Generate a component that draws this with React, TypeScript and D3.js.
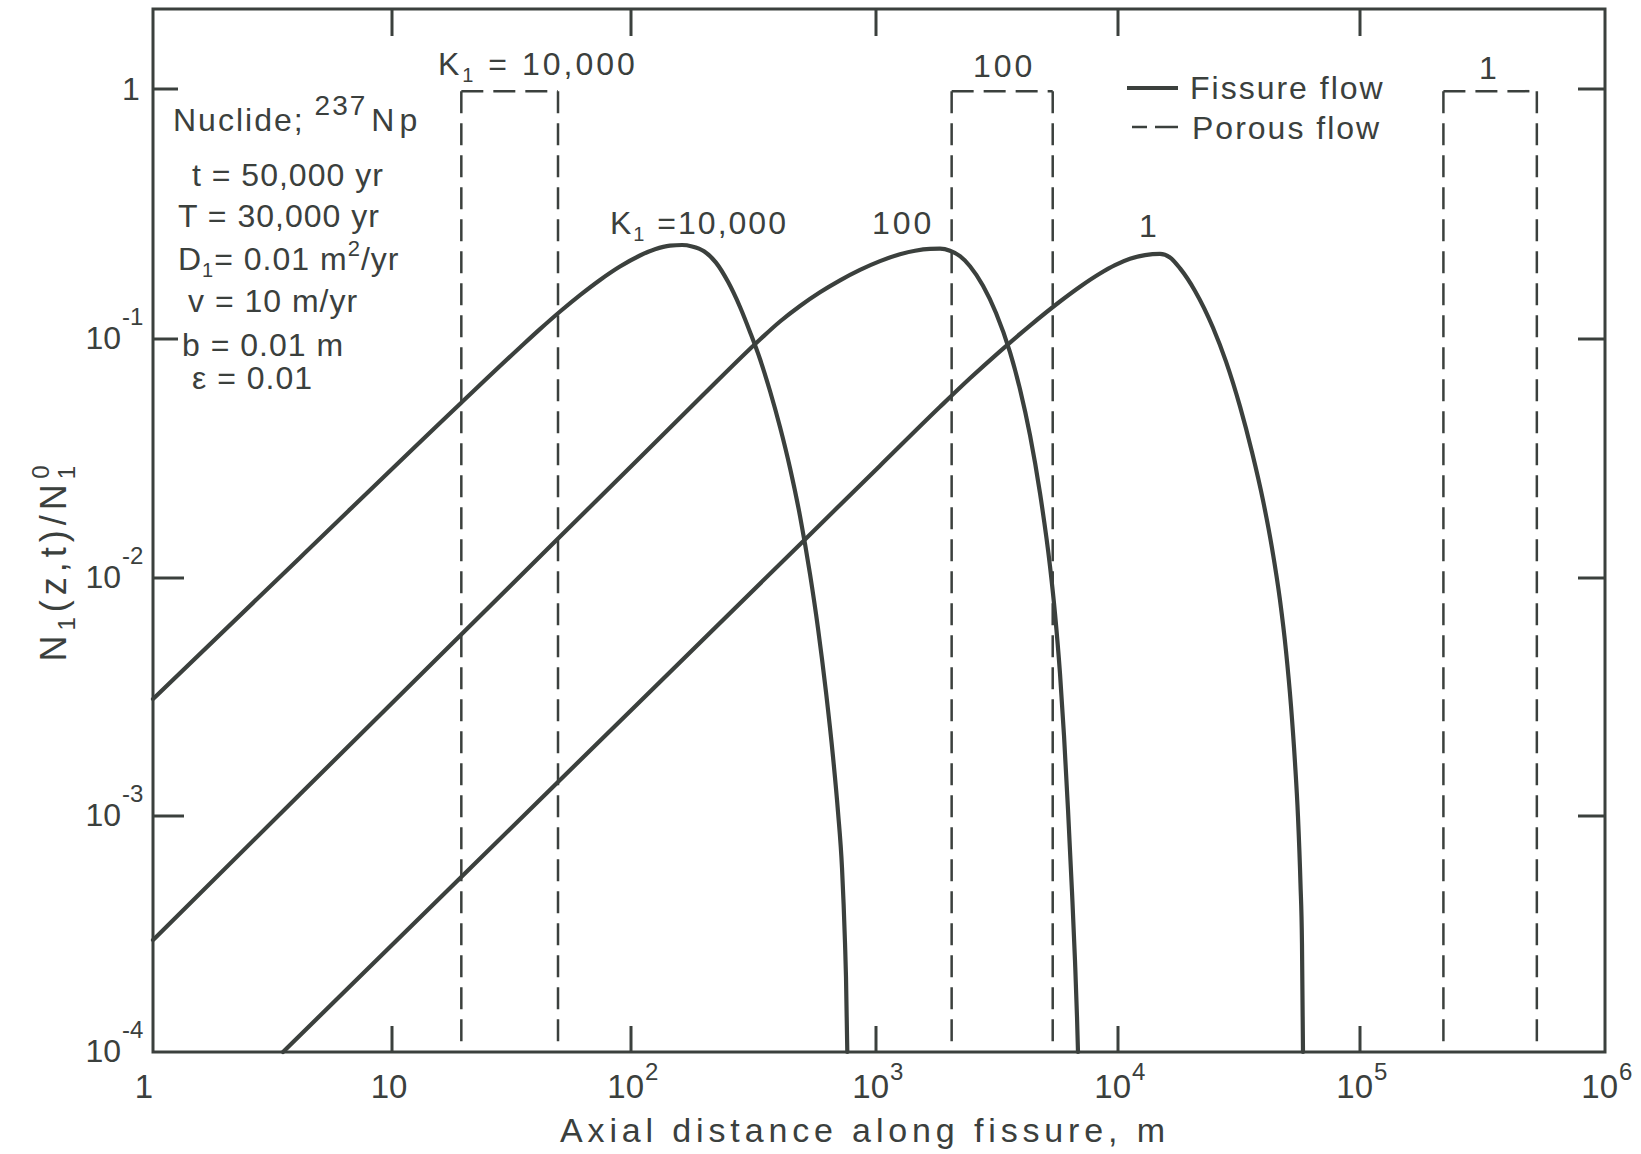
import React from 'react';
import * as d3 from 'd3';

// ---------- data ----------
const xTickValues = [1, 10, 100, 1000, 10000, 100000, 1000000];
const xTickBase = ['1', '10', '10', '10', '10', '10', '10'];
const xTickExp = ['', '', '2', '3', '4', '5', '6'];

const yTickValues = [1e-4, 1e-3, 1e-2, 1e-1, 1];
const yTickBase = ['10', '10', '10', '10', '1'];
const yTickExp = ['-4', '-3', '-2', '-1', ''];

// Fissure flow, K1 = 10,000
const fissureK10000X = [1, 4.12, 19.44, 34.3, 41.6, 50.5, 61.2, 74.2, 89.9, 108.8, 125.3, 144.3, 161.5, 177.5, 198.6, 222.3, 248.9, 278.6, 306.0, 336.1, 369.3, 405.7, 445.7, 489.6, 537.8, 579.9, 625.2, 667.6, 699.7, 726.5, 747.3, 754.4, 763.6];
const fissureK10000Y = [3.1e-3, 0.01216, 0.05398, 0.09213, 0.1095, 0.1288, 0.1498, 0.1723, 0.195, 0.2158, 0.2286, 0.2363, 0.2377, 0.2346, 0.2244, 0.2021, 0.1693, 0.1343, 0.1067, 0.08248, 0.06059, 0.04283, 0.02886, 0.01817, 0.01039, 6.14e-3, 3.31e-3, 1.773e-3, 1.041e-3, 6.03e-4, 2.9e-4, 2.06e-4, 1e-4];

// Fissure flow, K1 = 100
const fissureK100X = [1, 4.12, 19.44, 105.8, 191.2, 336.1, 405.7, 489.6, 590.8, 713.2, 860.4, 1039, 1256, 1450, 1672, 1839, 2022, 2224, 2446, 2768, 3133, 3578, 3936, 4329, 4761, 5236, 5492, 5759, 5983, 6215, 6455, 6642, 6770, 6834];
const fissureK100Y = [2.982e-4, 1.234e-3, 5.77e-3, 0.03105, 0.05663, 0.09952, 0.1175, 0.1356, 0.1538, 0.1717, 0.189, 0.2049, 0.2182, 0.2255, 0.2293, 0.2297, 0.2255, 0.2144, 0.1955, 0.1633, 0.1271, 0.0881, 0.06166, 0.03959, 0.02264, 0.0112, 7.08e-3, 3.962e-3, 2.175e-3, 1.063e-3, 4.777e-4, 2.437e-4, 1.411e-4, 1e-4];

// Fissure flow, K1 = 1
const fissureK1X = [3.499, 19.44, 105.8, 518.0, 1039, 1839, 2446, 3253, 4329, 5759, 6966, 8427, 9719, 11210, 12930, 14910, 16400, 18050, 20810, 24700, 27950, 31920, 35780, 39740, 43290, 46700, 49460, 51870, 53860, 55420, 56760, 57580, 58140];
const fissureK1Y = [1e-4, 5.503e-4, 2.943e-3, 0.01464, 0.0295, 0.05204, 0.06848, 0.08882, 0.1132, 0.1413, 0.1619, 0.1828, 0.1974, 0.2093, 0.2165, 0.2189, 0.212, 0.1916, 0.1557, 0.1109, 0.08043, 0.05224, 0.03366, 0.02112, 0.01334, 8.075e-3, 4.93e-3, 2.896e-3, 1.684e-3, 9.99e-4, 5.171e-4, 2.879e-4, 1e-4];

// Porous flow (step profiles)
const porousFrom = [19.5, 2054, 2.19e5];
const porousTo = [49.5, 5373, 5.27e5];
const porousLevel = 0.98;

const kValues = ['10,000', '100', '1'];

const annotationLines = ['t = 50,000 yr', 'T = 30,000 yr', 'v = 10 m/yr', 'b = 0.01 m', '\u03b5 = 0.01'];

// ---------- style ----------
const INK = '#3b403d';
const FONT = '"Liberation Sans", Arial, Helvetica, sans-serif';
const W = 1641;
const H = 1154;

export default function App() {
  const xScale = d3.scaleLog().domain(xTickValues).range([153, 392, 631, 876, 1118, 1360, 1605]);
  const yScale = d3.scaleLog().domain(yTickValues).range([1052, 816, 578, 339, 89]);

  const left = xScale(1);
  const right = xScale(1e6);
  const bottom = yScale(1e-4);
  const top = 9;

  const line = d3
    .line<[number, number]>()
    .x((d) => xScale(d[0]))
    .y((d) => yScale(d[1]))
    .curve(d3.curveMonotoneX);

  const series = [
    d3.zip(fissureK10000X, fissureK10000Y) as [number, number][],
    d3.zip(fissureK100X, fissureK100Y) as [number, number][],
    d3.zip(fissureK1X, fissureK1Y) as [number, number][],
  ];

  const innerTicksX = xTickValues.slice(1, -1);
  const innerTicksY = yTickValues.slice(1);

  const annPos = [
    [192, 186],
    [178, 227],
    [188, 312],
    [182, 356],
    [192, 389],
  ];

  return (
    <svg
      width={W}
      height={H}
      style={{ position: 'absolute', left: 0, top: 0, background: '#fff' }}
      fontFamily={FONT}
      fill={INK}
    >
      <rect x={0} y={0} width={W} height={H} fill="#fff" />

      {/* frame */}
      <rect x={left} y={top} width={right - left} height={bottom - top} fill="none" stroke={INK} strokeWidth={3} />

      {/* x ticks bottom and top */}
      {innerTicksX.map((v) => (
        <g key={'xt' + v}>
          <line x1={xScale(v)} x2={xScale(v)} y1={bottom} y2={bottom - 26} stroke={INK} strokeWidth={3} />
          <line x1={xScale(v)} x2={xScale(v)} y1={top} y2={top + 27} stroke={INK} strokeWidth={3} />
        </g>
      ))}
      {/* y ticks left and right */}
      {innerTicksY.map((v) => (
        <g key={'yt' + v}>
          <line x1={left} x2={left + (v >= 0.1 ? 25 : 31)} y1={yScale(v)} y2={yScale(v)} stroke={INK} strokeWidth={3} />
          <line x1={right} x2={right - 27} y1={yScale(v)} y2={yScale(v)} stroke={INK} strokeWidth={3} />
        </g>
      ))}

      {/* x tick labels */}
      {xTickValues.map((v, i) => {
        const tx = xScale(v);
        if (xTickExp[i] === '') {
          return (
            <text key={'xl' + v} x={tx - (v === 1 ? 9 : 3)} y={1098} fontSize={33} textAnchor="middle">
              {xTickBase[i]}
            </text>
          );
        }
        return (
          <g key={'xl' + v}>
            <text x={tx + 13} y={1098} fontSize={33} textAnchor="end">
              {xTickBase[i]}
            </text>
            <text x={tx + 14} y={1080} fontSize={24}>
              {xTickExp[i]}
            </text>
          </g>
        );
      })}

      {/* y tick labels */}
      {yTickValues.map((v, i) => {
        const ty = yScale(v);
        if (yTickExp[i] === '') {
          return (
            <text key={'yl' + v} x={131} y={ty + 11} fontSize={32} textAnchor="middle">
              {yTickBase[i]}
            </text>
          );
        }
        return (
          <g key={'yl' + v}>
            <text x={121} y={ty + 10} fontSize={32} textAnchor="end">
              {yTickBase[i]}
            </text>
            <text x={122} y={ty - 14} fontSize={24}>
              {yTickExp[i]}
            </text>
          </g>
        );
      })}

      {/* porous flow boxes */}
      {porousFrom.map((a, i) => {
        const x0 = xScale(a);
        const x1 = xScale(porousTo[i]);
        const yt = yScale(porousLevel);
        return (
          <g key={'box' + i} stroke={INK} strokeWidth={2.5} strokeDasharray="22 10" fill="none">
            <line x1={x0} x2={x0} y1={yt} y2={bottom} />
            <line x1={x0} x2={x1} y1={yt} y2={yt} />
            <line x1={x1} x2={x1} y1={yt} y2={bottom} />
          </g>
        );
      })}

      {/* fissure flow curves */}
      {series.map((s, i) => (
        <path key={'c' + i} d={line(s) || ''} fill="none" stroke={INK} strokeWidth={4.2} strokeLinejoin="round" strokeLinecap="round" />
      ))}

      {/* box labels */}
      <text x={438} y={75} fontSize={32} letterSpacing={3}>
        K<tspan fontSize={20} dy={7}>1</tspan>
        <tspan dy={-7}> = {kValues[0]}</tspan>
      </text>
      <text x={973} y={77} fontSize={32} letterSpacing={3}>
        {kValues[1]}
      </text>
      <text x={1488} y={79} fontSize={32} textAnchor="middle">
        {kValues[2]}
      </text>

      {/* curve labels */}
      <text x={610} y={234} fontSize={32} letterSpacing={2}>
        K<tspan fontSize={20} dy={7}>1</tspan>
        <tspan dy={-7}> ={kValues[0]}</tspan>
      </text>
      <text x={872} y={234} fontSize={32} letterSpacing={3}>
        {kValues[1]}
      </text>
      <text x={1148} y={237} fontSize={32} textAnchor="middle">
        {kValues[2]}
      </text>

      {/* legend */}
      <line x1={1127} x2={1178} y1={88} y2={88} stroke={INK} strokeWidth={4} />
      <text x={1190} y={99} fontSize={32} letterSpacing={2}>
        Fissure flow
      </text>
      <line x1={1132} x2={1178} y1={127} y2={127} stroke={INK} strokeWidth={2.5} strokeDasharray="15 8 23 100" />
      <text x={1192} y={139} fontSize={32} letterSpacing={2}>
        Porous flow
      </text>

      {/* annotation */}
      <text x={173} y={131} fontSize={32} letterSpacing={2}>
        Nuclide;
        <tspan fontSize={28} dy={-16} dx={10}>237</tspan>
        <tspan dy={16} dx={4} letterSpacing={5}>Np</tspan>
      </text>
      <text x={178} y={270} fontSize={32} letterSpacing={1}>
        D<tspan fontSize={20} dy={7}>1</tspan>
        <tspan dy={-7}>= 0.01 m</tspan>
        <tspan fontSize={22} dy={-14}>2</tspan>
        <tspan dy={14}>/yr</tspan>
      </text>
      {annotationLines.map((t, i) => (
        <text key={'ann' + i} x={annPos[i][0]} y={annPos[i][1]} fontSize={32} letterSpacing={1}>
          {t}
        </text>
      ))}

      {/* axis titles */}
      <text x={560} y={1142} fontSize={34} textLength={605} lengthAdjust="spacing">
        Axial distance along fissure, m
      </text>
      <text transform="translate(66,561) rotate(-90)" fontSize={36} letterSpacing={5} textAnchor="middle">
        N<tspan fontSize={24} dy={9}>1</tspan>
        <tspan dy={-9}>(z,t)/N</tspan>
        <tspan fontSize={24} dy={9}>1</tspan>
        <tspan fontSize={24} dy={-26} dx={-18}>0</tspan>
      </text>
    </svg>
  );
}
